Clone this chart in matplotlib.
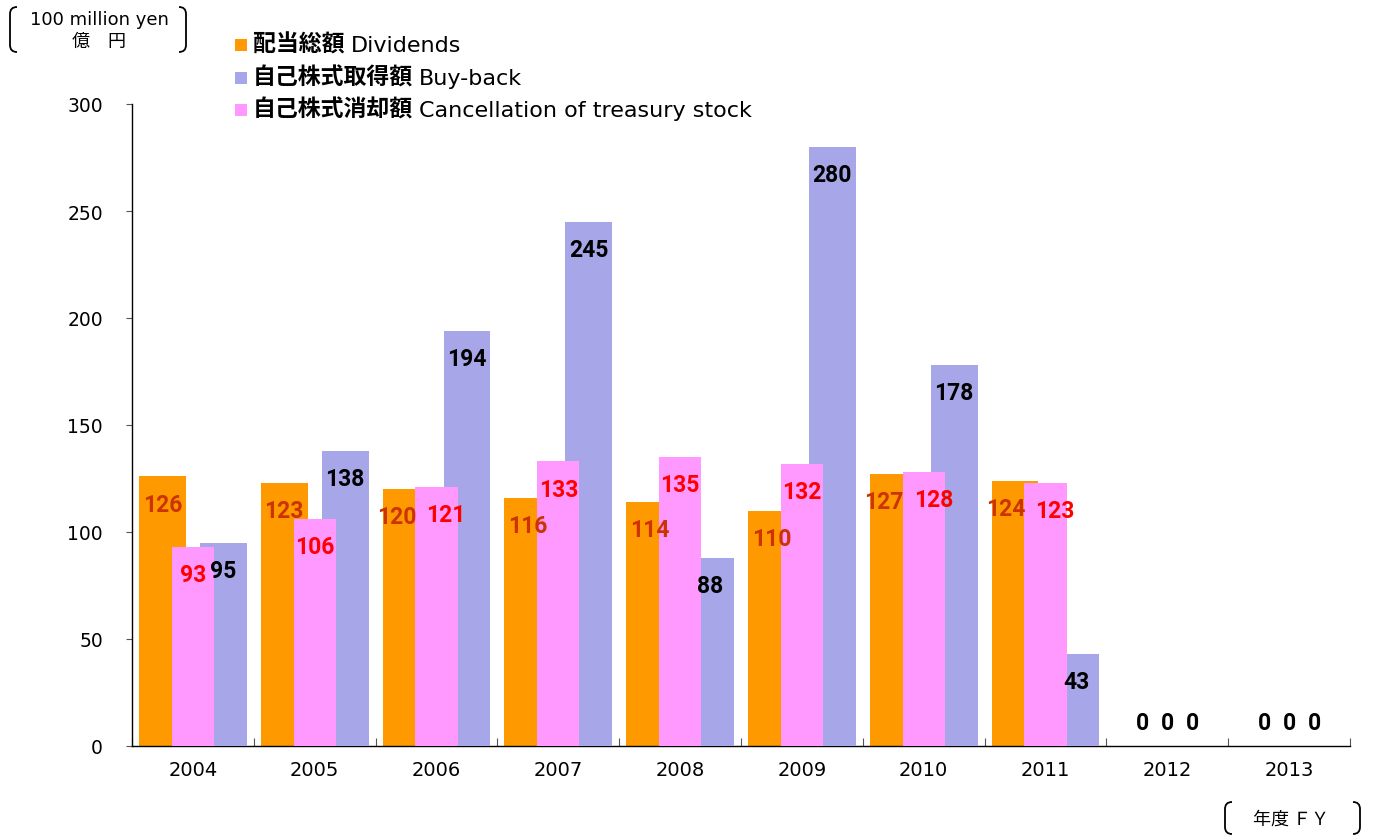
import matplotlib
matplotlib.use("Agg")
import matplotlib.pyplot as plt
import numpy as np
from matplotlib.path import Path
from matplotlib.patches import PathPatch, Rectangle

plt.rcParams["font.family"] = ["DejaVu Sans", "Noto Sans CJK JP"]

W, H = 1375, 837

years = ["2004", "2005", "2006", "2007", "2008", "2009", "2010", "2011", "2012", "2013"]
dividends = [126, 123, 120, 116, 114, 110, 127, 124, 0, 0]
buyback = [95, 138, 194, 245, 88, 280, 178, 43, 0, 0]
cancellation = [93, 106, 121, 133, 135, 132, 128, 123, 0, 0]

series = [
    # name_jp, name_en, values, colour, label colour, offset, width, zorder
    ("配当総額", "Dividends", dividends, "#FF9900", "#CC3300", -0.25, 0.385, 2),
    ("自己株式取得額", "Buy-back", buyback, "#A6A6E8", "black", 0.25, 0.385, 3),
    ("自己株式消却額", "Cancellation of treasury stock", cancellation, "#FF99FF", "#FF0000", 0.0, 0.345, 4),
]


def fx(px):
    return px / W


def fy(py):
    return 1 - py / H


def bracket(fig, x, y0, y1, side):
    # rounded bracket drawn in pixel coordinates (y down)
    d = 7 if side == "left" else -7
    pts = [(x + d, y0), (x, y0), (x, y0 + 7), (x, y1 - 7), (x, y1), (x + d, y1)]
    codes = [Path.MOVETO, Path.CURVE3, Path.CURVE3, Path.LINETO, Path.CURVE3, Path.CURVE3]
    verts = [(fx(a), fy(b)) for a, b in pts]
    fig.add_artist(PathPatch(Path(verts, codes), transform=fig.transFigure,
                             fill=False, lw=1.3, color="black"))


fig = plt.figure(figsize=(W / 100, H / 100), dpi=100)
ax = fig.add_axes([fx(132), fy(747), fx(1350 - 132), (747 - 105) / H])

x = np.arange(len(years))
label_kw = dict(textcoords="offset points", ha="center", va="center", fontsize=16.5,
                fontweight="bold", family=["Roboto", "DejaVu Sans"], zorder=6)
for k, (jp, en, vals, col, lcol, off, wid, z) in enumerate(series):
    ax.bar(x + off, vals, width=wid, color=col, zorder=z, linewidth=0)
    for i, v in enumerate(vals):
        if v == 0:
            ax.annotate(f"{v}", (i + off * 0.82, 0), xytext=(0, 17), color="black", **label_kw)
            continue
        # nudge dividend / cancellation labels apart when they sit at the same height
        dx = 0
        if abs(dividends[i] - cancellation[i]) < 10:
            dx = {0: -7, 2: 7}.get(k, 0)
        ax.annotate(f"{v}", (i + off, v), xytext=(dx, -20), color=lcol, **label_kw)

ax.set_xlim(-0.5, len(years) - 0.5)
ax.set_ylim(0, 300)
ax.set_yticks(range(0, 301, 50))
ax.set_xticks(x)
ax.set_xticklabels(years)
ax.set_xticks(np.arange(-0.5, len(years), 1), minor=True)
ax.tick_params(axis="x", which="major", length=0, pad=10, labelsize=14)
ax.tick_params(axis="x", which="minor", direction="in", length=6, width=0.8, color="#555555")
ax.tick_params(axis="y", direction="out", length=4, width=0.8, color="#555555", pad=17, labelsize=13.5)
for s in ("top", "right"):
    ax.spines[s].set_visible(False)
ax.spines["left"].set_linewidth(1.0)
ax.spines["bottom"].set_linewidth(1.0)

# legend, drawn by hand so the Japanese part can be bold
fig.canvas.draw()
renderer = fig.canvas.get_renderer()
for (jp, en, vals, col, lcol, off, wid, z), ypx in zip(series, [46, 79, 111]):
    fig.add_artist(Rectangle((fx(235), fy(ypx + 6)), 12 / W, 12 / H,
                             transform=fig.transFigure, color=col, lw=0))
    t = fig.text(fx(253), fy(ypx + 6), jp, fontsize=16.5, fontweight="bold",
                 family=["Noto Sans CJK JP"], va="baseline", ha="left")
    bb = t.get_window_extent(renderer)
    fig.text((bb.x1 + 6) / W, fy(ypx + 6), en, fontsize=16, va="baseline", ha="left")

# unit label
fig.text(fx(99), fy(20), "100 million yen", fontsize=13, ha="center", va="center")
fig.text(fx(99), fy(42), "億　円", fontsize=13, ha="center", va="center",
         family=["Noto Sans CJK JP"])
bracket(fig, 10, 8, 53, "left")
bracket(fig, 186, 8, 53, "right")

# axis title
fig.text(fx(1291), fy(820), "年度 ＦＹ", fontsize=13, ha="center", va="center",
         family=["Noto Sans CJK JP"])
bracket(fig, 1225, 803, 835, "left")
bracket(fig, 1360, 803, 835, "right")

fig.savefig("out.png", dpi=100)
